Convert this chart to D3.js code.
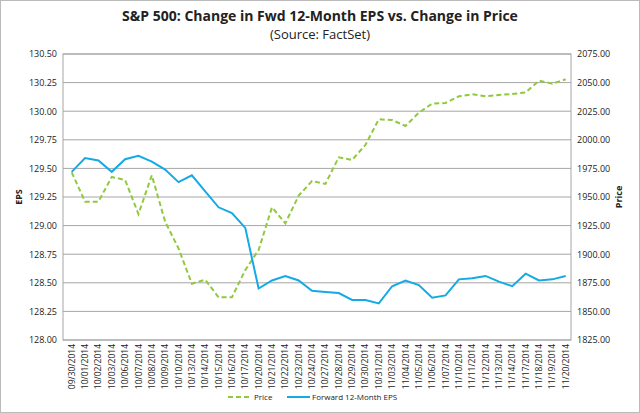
<!DOCTYPE html>
<html><head><meta charset="utf-8">
<script src="https://cdn.jsdelivr.net/npm/d3@7"></script>
<style>body{margin:0;background:#fff;font-family:"Open Sans",Arial,sans-serif}</style>
</head><body>
<svg id="c" width="640" height="413"></svg>
<script>
const dates = ["09/30/2014","10/01/2014","10/02/2014","10/03/2014","10/06/2014","10/07/2014","10/08/2014","10/09/2014","10/10/2014","10/13/2014","10/14/2014","10/15/2014","10/16/2014","10/17/2014","10/20/2014","10/21/2014","10/22/2014","10/23/2014","10/24/2014","10/27/2014","10/28/2014","10/29/2014","10/30/2014","10/31/2014","11/03/2014","11/04/2014","11/05/2014","11/06/2014","11/07/2014","11/10/2014","11/11/2014","11/12/2014","11/13/2014","11/14/2014","11/17/2014","11/18/2014","11/19/2014","11/20/2014"];
const eps = [129.47,129.59,129.57,129.47,129.58,129.61,129.56,129.49,129.38,129.44,129.30,129.16,129.11,128.98,128.45,128.52,128.56,128.52,128.43,128.42,128.41,128.35,128.35,128.32,128.47,128.52,128.48,128.37,128.39,128.53,128.54,128.56,128.51,128.47,128.58,128.52,128.53,128.56];
const price = [1971.6,1945.9,1945.9,1967.5,1964.9,1935.1,1969.0,1928.4,1905.1,1874.2,1877.7,1862.3,1862.3,1886.2,1903.7,1941.0,1927.0,1951.2,1964.0,1961.4,1984.7,1982.4,1995.5,2017.9,2017.3,2012.1,2023.7,2031.6,2032.2,2038.0,2039.8,2038.0,2039.2,2040.0,2041.5,2051.7,2049.1,2052.9];
const epsTicks = d3.range(128, 130.51, 0.25);
const priceTicks = d3.range(1825, 2075.1, 25);

const svg = d3.select("#c");
svg.append("rect").attr("x",0.5).attr("y",0.5).attr("width",639).attr("height",412)
  .attr("fill","#fff").attr("stroke","#bbb");
const m = {l:63, r:571, t:54, b:340};
const x = d3.scalePoint().domain(dates).range([71.7, 565.7]);
const yL = d3.scaleLinear().domain([128, 130.5]).range([m.b, m.t]);
const yR = d3.scaleLinear().domain([1825, 2075]).range([m.b, m.t]);

// gridlines
svg.append("g").selectAll("line").data(epsTicks).join("line")
  .attr("x1",m.l).attr("x2",m.r).attr("y1",d=>yL(d)).attr("y2",d=>yL(d))
  .attr("stroke","#a6a6a6").attr("stroke-width",1);
svg.append("rect").attr("x",m.l).attr("y",m.t).attr("width",m.r-m.l).attr("height",m.b-m.t)
  .attr("fill","none").attr("stroke","#a6a6a6");

const fs = "9px";
svg.append("g").attr("transform",`translate(${m.l},0)`)
  .call(d3.axisLeft(yL).tickValues(epsTicks).tickFormat(d3.format(".2f")).tickSize(0).tickPadding(6))
  .call(g=>{g.select(".domain").remove();g.selectAll("text").attr("font-size",fs).attr("fill","#222").attr("font-family","Open Sans");});
svg.append("g").attr("transform",`translate(${m.r},0)`)
  .call(d3.axisRight(yR).tickValues(priceTicks).tickFormat(d3.format(".2f")).tickSize(0).tickPadding(6))
  .call(g=>{g.select(".domain").remove();g.selectAll("text").attr("font-size",fs).attr("fill","#222").attr("font-family","Open Sans");});
svg.append("g").attr("transform",`translate(0,${m.b})`)
  .call(d3.axisBottom(x).tickSize(0).tickPadding(4))
  .call(g=>{g.select(".domain").remove();g.selectAll("text").attr("font-size","8.5px").attr("fill","#222")
    .attr("font-family","Open Sans").attr("transform","rotate(-90)").attr("text-anchor","end")
    .attr("dx","-4").attr("dy","0.3em").attr("y",0).attr("x",0);});

svg.append("path").datum(price).attr("fill","none").attr("stroke","#92c83e").attr("stroke-width",2)
  .attr("stroke-dasharray","5,3")
  .attr("d",d3.line().x((d,i)=>x(dates[i])).y(d=>yR(d)));
svg.append("path").datum(eps).attr("fill","none").attr("stroke","#14aae6").attr("stroke-width",2)
  .attr("d",d3.line().x((d,i)=>x(dates[i])).y(d=>yL(d)));

svg.append("text").attr("x",320).attr("y",21).attr("text-anchor","middle").attr("font-size","14px")
  .attr("font-weight","bold").attr("fill","#222").text("S&P 500: Change in Fwd 12-Month EPS vs. Change in Price");
svg.append("text").attr("x",320).attr("y",39).attr("text-anchor","middle").attr("font-size","13px")
  .attr("fill","#222").text("(Source: FactSet)");
svg.append("text").attr("transform","translate(22,197) rotate(-90)").attr("text-anchor","middle")
  .attr("font-size","9px").attr("font-weight","bold").attr("fill","#222").text("EPS");
svg.append("text").attr("transform","translate(622,197) rotate(-90)").attr("text-anchor","middle")
  .attr("font-size","9px").attr("font-weight","bold").attr("fill","#222").text("Price");

const lg = svg.append("g").attr("font-size","8px").attr("fill","#222");
lg.append("line").attr("x1",228).attr("x2",250).attr("y1",397).attr("y2",397)
  .attr("stroke","#92c83e").attr("stroke-width",2).attr("stroke-dasharray","5,3");
lg.append("text").attr("x",254).attr("y",400).text("Price");
lg.append("line").attr("x1",287).attr("x2",310).attr("y1",397).attr("y2",397)
  .attr("stroke","#14aae6").attr("stroke-width",2);
lg.append("text").attr("x",312).attr("y",400).text("Forward 12-Month EPS");
</script>
</body></html>
